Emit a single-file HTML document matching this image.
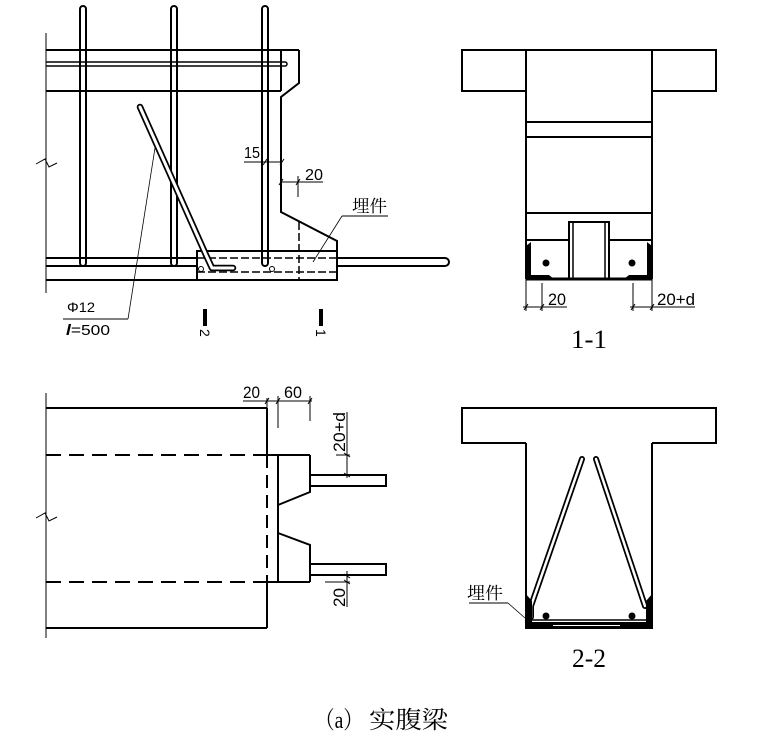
<!DOCTYPE html>
<html><head><meta charset="utf-8"><style>
html,body{margin:0;padding:0;background:#fff;}
svg{display:block;}
text{font-family:"Liberation Sans",sans-serif;fill:#000;}
.cjk{font-family:"Liberation Serif","Noto Serif CJK SC","Noto Sans CJK SC",serif;}
.ser{font-family:"Liberation Serif",serif;}
</style></head><body>
<svg width="784" height="738" viewBox="0 0 784 738" xmlns="http://www.w3.org/2000/svg">
<g fill="none" stroke="#000" stroke-width="2">
<!-- ===== Top-left elevation ===== -->
<line x1="46" y1="33" x2="46" y2="293" stroke-width="1"/>
<polyline points="36,164 45,159 49,167 57,163" stroke-width="1"/>
<line x1="46" y1="50" x2="299" y2="50"/>
<path d="M46,62 H285 A2,2 0 0 1 285,66 H46" stroke-width="1.5"/>
<line x1="46" y1="91" x2="281" y2="91"/>
<line x1="281" y1="50" x2="281" y2="91"/>
<polyline points="299,50 299,83 281,97 281,212 337,241 337,251"/>
<rect x="197" y="251" width="140" height="29"/>
<line x1="46" y1="280" x2="197" y2="280"/>
<line x1="46" y1="258" x2="197" y2="258"/>
<line x1="46" y1="266" x2="197" y2="266"/>
<path d="M337,258 H445 A4,4 0 0 1 445,266 H337"/>
<line x1="197" y1="258" x2="337" y2="258" stroke-dasharray="8,3" stroke-width="1.5"/>
<line x1="197" y1="272" x2="337" y2="272" stroke-dasharray="8,3" stroke-width="1.5"/>
<line x1="299" y1="222" x2="299" y2="280" stroke-dasharray="8,3" stroke-width="1.5"/>
<!-- stirrups -->
<rect x="80" y="6" width="6" height="260" rx="3" stroke-width="2"/>
<rect x="171" y="6" width="6" height="260" rx="3" stroke-width="2"/>
<rect x="262" y="6" width="6" height="260" rx="3" stroke-width="2"/>
<!-- diagonal bar -->
<path d="M140,107 L206,255 L212,268 L233,268" stroke-width="6.5" stroke-linecap="round" stroke-linejoin="round"/>
<path d="M140,107 L206,255 L212,268 L233,268" stroke="#fff" stroke-width="3" stroke-linecap="round" stroke-linejoin="round"/>
<circle cx="201" cy="269" r="2.5" stroke-width="1"/>
<circle cx="272" cy="269" r="2.5" stroke-width="1"/>
<!-- dims -->
<g stroke-width="1">
<line x1="244" y1="162" x2="282" y2="162"/>
<line x1="263" y1="165" x2="267" y2="159"/>
<line x1="280" y1="165" x2="284" y2="159"/>
<line x1="280" y1="182" x2="323" y2="182"/>
<line x1="279" y1="185" x2="283" y2="179"/>
<line x1="296" y1="185" x2="300" y2="179"/>
<line x1="298" y1="176" x2="298" y2="197"/>
<line x1="342" y1="216" x2="388" y2="216"/>
<line x1="342" y1="216" x2="313" y2="262" stroke-width="0.8"/>
<line x1="155" y1="148" x2="128" y2="319" stroke-width="0.8"/>
<line x1="128" y1="319" x2="63" y2="319"/>
</g>
</g>
<rect x="203" y="309" width="4" height="17" fill="#000"/>
<rect x="319" y="309" width="4" height="17" fill="#000"/>
<text x="244" y="158" font-size="16" textLength="16" lengthAdjust="spacingAndGlyphs">15</text>
<text x="305" y="180" font-size="16" textLength="18" lengthAdjust="spacingAndGlyphs">20</text>
<text class="cjk" x="352" y="212" font-size="17" textLength="35" lengthAdjust="spacingAndGlyphs">埋件</text>
<text x="67" y="312" font-size="14" textLength="28" lengthAdjust="spacingAndGlyphs">Φ12</text>
<text x="66" y="335" font-size="15" textLength="44" lengthAdjust="spacingAndGlyphs"><tspan font-style="italic" font-weight="bold">l</tspan>=500</text>
<text x="0" y="0" font-size="14" transform="translate(200,329) rotate(90)">2</text>
<text x="0" y="0" font-size="14" transform="translate(316,329) rotate(90)">1</text>

<g fill="none" stroke="#000" stroke-width="2">
<!-- ===== Section 1-1 ===== -->
<path d="M526,91 H462 V50 H716 V91 H652"/>
<line x1="526" y1="50" x2="526" y2="279"/>
<line x1="652" y1="50" x2="652" y2="279"/>
<line x1="526" y1="122" x2="652" y2="122"/>
<line x1="526" y1="137" x2="652" y2="137"/>
<line x1="526" y1="213" x2="652" y2="213"/>
<line x1="526" y1="240" x2="569" y2="240"/>
<line x1="609" y1="240" x2="652" y2="240"/>
<rect x="569" y="222" width="40" height="57"/>
<line x1="573" y1="222" x2="573" y2="279" stroke-width="1.5"/>
<line x1="605" y1="222" x2="605" y2="279" stroke-width="1.5"/>
<line x1="526" y1="279" x2="652" y2="279" stroke-width="3"/>
<g stroke-width="1">
<line x1="526" y1="279" x2="526" y2="311"/>
<line x1="542" y1="283" x2="542" y2="311"/>
<line x1="523" y1="307" x2="567" y2="307"/>
<line x1="524" y1="310" x2="528" y2="304"/>
<line x1="540" y1="310" x2="544" y2="304"/>
<line x1="633" y1="283" x2="633" y2="311"/>
<line x1="652" y1="279" x2="652" y2="311"/>
<line x1="630" y1="307" x2="695" y2="307"/>
<line x1="631" y1="310" x2="635" y2="304"/>
<line x1="650" y1="310" x2="654" y2="304"/>
</g>
</g>
<path d="M526,246 L531,242 L531,275 L549,275 L554,279 L526,279 Z" fill="#000"/>
<path d="M652,246 L647,242 L647,275 L629,275 L624,279 L652,279 Z" fill="#000"/>
<circle cx="546" cy="263" r="3.5" fill="#000"/>
<circle cx="632" cy="263" r="3.5" fill="#000"/>
<text x="548" y="305" font-size="17" textLength="18" lengthAdjust="spacingAndGlyphs">20</text>
<text x="657" y="305" font-size="17" textLength="38" lengthAdjust="spacingAndGlyphs">20+d</text>
<text class="ser" x="571" y="348" font-size="26" textLength="36" lengthAdjust="spacingAndGlyphs">1-1</text>

<g fill="none" stroke="#000" stroke-width="2">
<!-- ===== Bottom-left plan ===== -->
<line x1="46" y1="393" x2="46" y2="638" stroke-width="1"/>
<polyline points="36,518 45,513 49,521 57,517" stroke-width="1"/>
<line x1="46" y1="408" x2="267" y2="408"/>
<line x1="46" y1="628" x2="267" y2="628"/>
<line x1="267" y1="408" x2="267" y2="455"/>
<line x1="267" y1="455" x2="267" y2="582" stroke-dasharray="13,7"/>
<line x1="267" y1="582" x2="267" y2="628"/>
<line x1="46" y1="455" x2="267" y2="455" stroke-dasharray="15,8"/>
<line x1="46" y1="582" x2="267" y2="582" stroke-dasharray="15,8"/>
<line x1="267" y1="455" x2="310" y2="455"/>
<line x1="267" y1="582" x2="310" y2="582"/>
<line x1="278" y1="455" x2="278" y2="582"/>
<polyline points="310,455 310,492 278,505"/>
<polyline points="278,533 310,545 310,582"/>
<rect x="310" y="475" width="76" height="11"/>
<rect x="310" y="564" width="76" height="11"/>
<g stroke-width="1">
<line x1="243" y1="401" x2="312" y2="401"/>
<line x1="265" y1="404" x2="269" y2="398"/>
<line x1="276" y1="404" x2="280" y2="398"/>
<line x1="308" y1="404" x2="312" y2="398"/>
<line x1="267" y1="398" x2="267" y2="408"/>
<line x1="278" y1="396" x2="278" y2="428"/>
<line x1="310" y1="396" x2="310" y2="421"/>
<line x1="347" y1="412" x2="347" y2="478"/>
<line x1="336" y1="455" x2="350" y2="455"/>
<line x1="344" y1="453" x2="350" y2="457"/>
<line x1="344" y1="473" x2="350" y2="477"/>
<line x1="347" y1="571" x2="347" y2="607"/>
<line x1="325" y1="582" x2="350" y2="582"/>
<line x1="344" y1="574" x2="350" y2="578"/>
<line x1="344" y1="580" x2="350" y2="584"/>
</g>
</g>
<text x="243" y="398" font-size="17" textLength="17" lengthAdjust="spacingAndGlyphs">20</text>
<text x="284" y="398" font-size="17" textLength="18" lengthAdjust="spacingAndGlyphs">60</text>
<text x="0" y="0" font-size="17" textLength="40" lengthAdjust="spacingAndGlyphs" transform="translate(345,452) rotate(-90)">20+d</text>
<text x="0" y="0" font-size="17" textLength="19" lengthAdjust="spacingAndGlyphs" transform="translate(345,607) rotate(-90)">20</text>

<g fill="none" stroke="#000" stroke-width="2">
<!-- ===== Section 2-2 ===== -->
<path d="M526,443 H462 V408 H716 V443 H652"/>
<line x1="526" y1="443" x2="526" y2="629"/>
<line x1="652" y1="443" x2="652" y2="629"/>
<path d="M582,459 L531,606 L531,617" stroke-width="6" stroke-linecap="round" stroke-linejoin="round"/>
<path d="M582,459 L531,606 L531,617" stroke="#fff" stroke-width="2.5" stroke-linecap="round" stroke-linejoin="round"/>
<path d="M596,459 L645,606" stroke-width="6" stroke-linecap="round"/>
<path d="M596,459 L645,606" stroke="#fff" stroke-width="2.5" stroke-linecap="round"/>
<line x1="529" y1="620" x2="650" y2="620" stroke-width="1.5"/>
<line x1="469" y1="603" x2="508" y2="603" stroke-width="1"/>
<line x1="508" y1="603" x2="525" y2="618" stroke-width="0.8"/>
</g>
<rect x="525" y="622" width="128" height="7" fill="#000"/>
<line x1="553" y1="625.5" x2="620" y2="625.5" stroke="#fff" stroke-width="1"/>
<path d="M525,593 L532,601 L532,622 L525,622 Z" fill="#000"/>
<path d="M653,593 L646,601 L646,622 L653,622 Z" fill="#000"/>
<circle cx="546" cy="616" r="3.5" fill="#000"/>
<circle cx="632" cy="616" r="3.5" fill="#000"/>
<text class="cjk" x="467" y="599" font-size="17" textLength="36" lengthAdjust="spacingAndGlyphs">埋件</text>
<text class="ser" x="572" y="667" font-size="26" textLength="34" lengthAdjust="spacingAndGlyphs">2-2</text>

<!-- caption -->
<text class="cjk" x="315" y="728" font-size="24" textLength="48" lengthAdjust="spacingAndGlyphs">（a）</text>
<text class="cjk" x="369" y="728" font-size="24" textLength="79" lengthAdjust="spacingAndGlyphs">实腹梁</text>
</svg>
</body></html>
